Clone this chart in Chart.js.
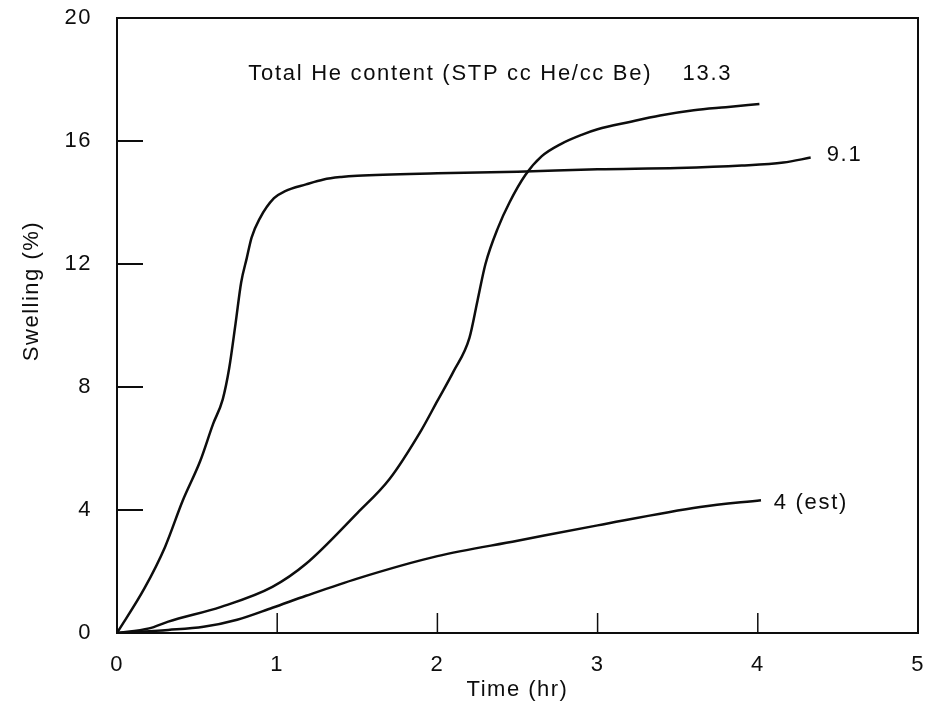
<!DOCTYPE html>
<html>
<head>
<meta charset="utf-8">
<script src="https://cdn.jsdelivr.net/npm/chart.js@4.4.0/dist/chart.umd.min.js"></script>
<style>
  html, body { margin: 0; padding: 0; background: #fff; }
</style>
</head>
<body>
<canvas id="swelling" width="926" height="715"></canvas>
<script>
// Curve reaching ~15% (He content 9.1)
const timeA  = [0, 0.17, 0.30, 0.41, 0.52, 0.60, 0.66, 0.70, 0.74, 0.775, 0.81, 0.84, 0.89, 0.98, 1.05, 1.18, 1.29, 1.40, 1.5, 2.0, 2.5, 3.0, 3.5, 3.9, 4.16, 4.33];
const swellA = [0, 1.44, 2.8, 4.3, 5.6, 6.8, 7.6, 8.6, 10.06, 11.40, 12.19, 12.86, 13.47, 14.14, 14.37, 14.59, 14.75, 14.83, 14.87, 14.95, 15.0, 15.08, 15.12, 15.2, 15.3, 15.46];

// S-shaped curve (He content 13.3)
const timeB  = [0, 0.2, 0.32, 0.65, 0.97, 1.18, 1.5, 1.7, 1.9, 2.0, 2.1, 2.2, 2.25, 2.3, 2.38, 2.45, 2.55, 2.65, 2.77, 2.9, 3.0, 3.2, 3.39, 3.6, 3.8, 4.01];
const swellB = [0, 0.15, 0.37, 0.85, 1.5, 2.25, 3.9, 5.0, 6.6, 7.55, 8.5, 9.6, 10.8, 12.0, 13.2, 14.0, 14.9, 15.5, 15.9, 16.2, 16.38, 16.62, 16.83, 17.0, 17.1, 17.2];

// Lowest curve (He content 4, estimated)
const timeC  = [0, 0.32, 0.54, 0.75, 0.97, 1.18, 1.5, 2.0, 2.5, 3.0, 3.64, 4.02];
const swellC = [0, 0.1, 0.2, 0.43, 0.82, 1.21, 1.77, 2.5, 3.0, 3.5, 4.1, 4.32];

const xTicks = [0, 1, 2, 3, 4, 5];
const yTicks = [0, 4, 8, 12, 16, 20];

const fontFamily = '"Liberation Sans", Arial, Helvetica, sans-serif';
const ink = '#0d0d0d';

function toPoints(xs, ys) {
    return xs.map((x, i) => ({ x: x, y: ys[i] }));
}

// frame + inward tick marks, drawn under the curves
const framePlugin = {
    id: 'frame',
    beforeDraw(chart) {
        chart.ctx.letterSpacing = '1.5px';
    },
    beforeDatasetsDraw(chart) {
        const ctx = chart.ctx;
        const a = chart.chartArea;
        const xs = chart.scales.x, ys = chart.scales.y;
        ctx.save();
        ctx.strokeStyle = ink;
        ctx.lineWidth = 2;
        ctx.strokeRect(a.left, a.top, a.right - a.left, a.bottom - a.top);
        ctx.lineWidth = 2;
        yTicks.slice(1, -1).forEach(v => {
            const y = ys.getPixelForValue(v);
            ctx.beginPath();
            ctx.moveTo(a.left, y);
            ctx.lineTo(a.left + 26, y);
            ctx.stroke();
        });
        ctx.lineWidth = 1.5;
        xTicks.slice(1, -1).forEach(v => {
            const x = xs.getPixelForValue(v);
            ctx.beginPath();
            ctx.moveTo(x, a.bottom);
            ctx.lineTo(x, a.bottom - 20);
            ctx.stroke();
        });
        ctx.restore();
    }
};

// curve labels, header text and the y title
const textPlugin = {
    id: 'texts',
    afterDraw(chart) {
        const ctx = chart.ctx;
        const xs = chart.scales.x, ys = chart.scales.y;
        ctx.save();
        ctx.fillStyle = ink;
        ctx.font = '22px ' + fontFamily;
        ctx.letterSpacing = '1.7px';
        ctx.textBaseline = 'middle';
        ctx.textAlign = 'left';
        ctx.fillText('Total He content (STP cc He/cc Be)', xs.getPixelForValue(0.82), ys.getPixelForValue(18.18));
        ctx.fillText('13.3', xs.getPixelForValue(3.53), ys.getPixelForValue(18.18));
        ctx.fillText('9.1', xs.getPixelForValue(4.43), ys.getPixelForValue(15.55));
        ctx.fillText('4 (est)', xs.getPixelForValue(4.10), ys.getPixelForValue(4.23));

        ctx.letterSpacing = '1.5px';
        ctx.translate(32, 291);
        ctx.rotate(-Math.PI / 2);
        ctx.textAlign = 'center';
        ctx.fillText('Swelling (%)', 0, 0);
        ctx.restore();
    }
};

const lineStyle = {
    borderColor: ink,
    borderWidth: 2.5,
    pointRadius: 0,
    fill: false,
    cubicInterpolationMode: 'monotone'
};

const chart = new Chart(document.getElementById('swelling').getContext('2d'), {
    type: 'line',
    data: {
        datasets: [
            Object.assign({ label: '9.1', data: toPoints(timeA, swellA) }, lineStyle),
            Object.assign({ label: '13.3', data: toPoints(timeB, swellB) }, lineStyle),
            Object.assign({ label: '4 (est)', data: toPoints(timeC, swellC) }, lineStyle)
        ]
    },
    options: {
        responsive: false,
        animation: false,
        layout: { padding: { top: 18, right: 8, left: 0, bottom: 0 } },
        plugins: {
            legend: { display: false },
            tooltip: { enabled: false }
        },
        scales: {
            x: {
                type: 'linear',
                min: 0,
                max: 5,
                afterBuildTicks(scale) {
                    scale.ticks = xTicks.map(v => ({ value: v }));
                },
                afterFit(scale) {
                    scale.height = 82;
                    scale.paddingLeft = 0;
                    scale.paddingRight = 0;
                },
                ticks: { color: ink, padding: 19, font: { family: fontFamily, size: 22 } },
                grid: { display: false, drawTicks: false },
                border: { display: false },
                title: {
                    display: true,
                    text: 'Time (hr)',
                    color: ink,
                    font: { family: fontFamily, size: 22 },
                    padding: { top: 0, bottom: 12 }
                }
            },
            y: {
                min: 0,
                max: 20,
                afterBuildTicks(scale) {
                    scale.ticks = yTicks.map(v => ({ value: v }));
                },
                afterFit(scale) {
                    scale.width = 117;
                    scale.paddingTop = 0;
                    scale.paddingBottom = 0;
                },
                ticks: { color: ink, padding: 25, font: { family: fontFamily, size: 22 } },
                grid: { display: false, drawTicks: false },
                border: { display: false }
            }
        }
    },
    plugins: [framePlugin, textPlugin]
});
</script>
</body>
</html>
